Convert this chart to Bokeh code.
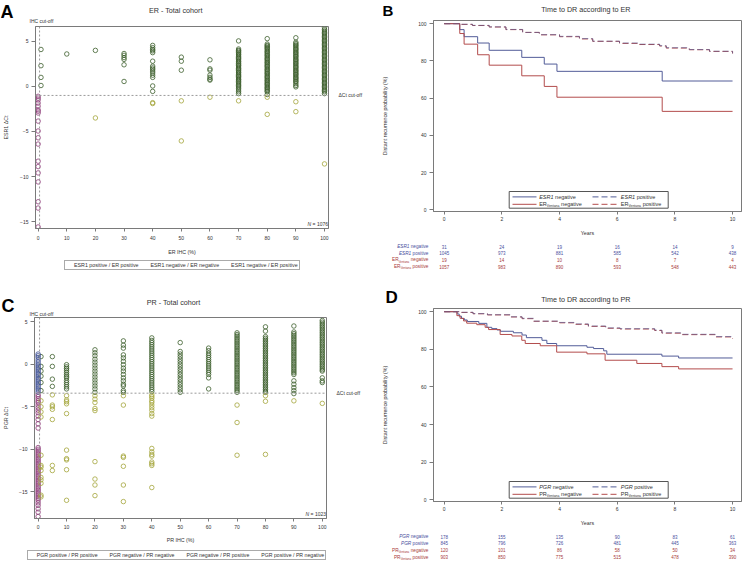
from bokeh.plotting import figure
from bokeh.layouts import column, row
from bokeh.models import (Range1d, Span, Label, BoxAnnotation, Arrow, Legend,
                          LegendItem, FixedTicker, LinearAxis)
from bokeh.core.properties import value
from bokeh.embed import file_html
from bokeh.resources import INLINE

FONT = "Liberation Sans"

# ---------------- Panel A: ESR1 dCt by ER IHC (%) ----------------
A_ESR1POS_ERPOS = {
    1: [4.1, 2.3, 1.0, 0.1],
    10: [3.6],
    20: [4.0],
    30: [3.65, 3.45, 3.2, 3.0, 2.4, 0.55],
    40: [4.55, 4.3, 4.1, 3.95, 3.75, 2.8, 2.25, 2.05, 1.9, 1.7, 1.5, 1.25, 1.0, 0.05, -0.55],
    50: [3.25, 2.8, 1.8],
    60: [2.95, 1.95, 1.8, 1.25, 1.0, 0.8, 0.7],
    70: [5.05, 4.15, 4.0, 3.9, 3.75, 3.6, 3.5, 3.35, 3.2, 3.1, 2.95, 2.8, 2.7, 2.55, 2.4,
         2.3, 2.15, 2.0, 1.9, 1.75, 1.6, 1.5, 1.35, 1.2, 1.1, 0.95, 0.8, 0.7, 0.55, 0.4,
         0.25, 0.1, -0.05, -0.2, -0.4, -0.6, -0.8],
    80: [5.3, 4.7, 4.55, 4.45, 4.3, 4.2, 4.05, 3.9, 3.8, 3.65, 3.5, 3.4, 3.25, 3.1, 3.0,
         2.85, 2.7, 2.6, 2.45, 2.3, 2.2, 2.05, 1.9, 1.8, 1.65, 1.5, 1.4, 1.25, 1.1, 1.0,
         0.85, 0.7, 0.6, 0.45, 0.3, 0.2, 0.05, -0.1, -0.2, -0.35, -0.5, -0.6, -0.9],
    90: [5.4, 4.9, 4.75, 4.6, 4.5, 4.35, 4.2, 4.1, 3.95, 3.8, 3.7, 3.55, 3.4, 3.3, 3.15,
         3.0, 2.9, 2.75, 2.6, 2.5, 2.35, 2.2, 2.1, 1.95, 1.8, 1.7, 1.55, 1.4, 1.3, 1.15,
         1.0, 0.9, 0.75, 0.6, 0.5, 0.3, 0.1, -0.05],
    100: [6.5, 6.3, 6.15, 6.0, 5.85, 5.7, 5.55, 5.4, 5.25, 5.1, 4.95, 4.8, 4.65, 4.5, 4.35,
          4.2, 4.05, 3.9, 3.75, 3.6, 3.45, 3.3, 3.15, 3.0, 2.85, 2.7, 2.55, 2.4, 2.25, 2.1,
          1.95, 1.8, 1.65, 1.5, 1.35, 1.2, 1.05, 0.9, 0.75, 0.6, 0.45, 0.3, 0.15, 0.0,
          -0.15, -0.3, -0.45, -0.6, -0.8],
}
A_ESR1NEG_ERNEG = {
    0: [-1.1, -1.3, -1.5, -1.85, -2.2, -2.6, -2.75, -2.95, -3.85, -4.95, -5.7, -6.4,
        -8.3, -8.9, -9.6, -10.6, -12.8, -13.5, -15.6],
}
A_ESR1NEG_ERPOS = {
    20: [-3.5], 40: [-1.8, -1.9], 50: [-1.6, -6.05], 60: [-1.2], 70: [-1.6],
    80: [-1.2, -3.1], 90: [-1.7, -2.8], 100: [-8.6],
}
A_DCT_CUTOFF = -1.0
A_N = 1076

# ---------------- Panel C: PGR dCt by PR IHC (%) ----------------
C_PGRPOS_PRPOS = {
    1: [0.9, -0.25, -0.8, -1.4, -2.15, -3.1],
    5: [0.9, -0.25, -1.75, -2.6],
    10: [-0.05, -0.3, -0.5, -0.7, -0.95, -1.2, -1.4, -1.6, -1.9, -2.15, -2.4, -2.65, -2.9],
    20: [1.7, 1.35, 1.0, 0.6, 0.25, -0.1, -0.45, -0.8, -1.15, -1.5, -1.85, -2.2, -2.55,
         -2.9, -3.3],
    30: [2.75, 2.25, 1.9, 1.1, 0.75, 0.35, -0.05, -0.45, -0.8, -1.2, -1.6, -1.95, -2.35,
         -2.55, -3.1, -3.3],
    40: [3.1, 2.8, 2.55, 2.3, 2.05, 1.8, 1.55, 1.3, 1.05, 0.8, 0.55, 0.3, 0.05, -0.2,
         -0.45, -0.7, -0.95, -1.2, -1.45, -1.7, -1.95, -2.2, -2.45, -2.7, -2.95, -3.2],
    50: [2.55, 1.5, 1.2, 0.9, 0.6, 0.3, 0.0, -0.3, -0.6, -0.9, -1.2, -1.5, -1.8, -2.1,
         -2.4, -2.7, -3.0, -3.3],
    60: [1.9, 1.6, 1.3, 1.05, 0.8, 0.55, 0.3, 0.05, -0.2, -0.45, -0.7, -0.95, -1.2, -1.6,
         -2.9],
    70: [3.7, 3.5, 3.3, 3.1, 2.9, 2.7, 2.5, 2.3, 2.1, 1.9, 1.7, 1.5, 1.3, 1.1, 0.9, 0.7,
         0.5, 0.3, 0.1, -0.1, -0.3, -0.5, -0.7, -0.9, -1.1, -1.3, -1.5, -1.7, -1.9, -2.1,
         -2.3, -2.5, -2.7, -2.9, -3.1, -3.3],
    80: [4.4, 3.9, 3.25, 3.05, 2.85, 2.65, 2.45, 2.25, 2.05, 1.85, 1.65, 1.45, 1.25, 1.05,
         0.85, 0.65, 0.45, 0.25, 0.05, -0.15, -0.35, -0.55, -0.75, -0.95, -1.15, -1.35,
         -1.55, -1.75, -1.95, -2.15, -2.35, -2.55, -2.75, -2.95, -3.15, -3.3],
    90: [4.5, 3.8, 3.6, 3.4, 3.2, 3.0, 2.8, 2.6, 2.4, 2.2, 2.0, 1.8, 1.6, 1.4, 1.2, 1.0,
         0.8, 0.6, 0.4, 0.2, 0.0, -0.2, -0.4, -0.6, -0.8, -1.0, -1.2, -1.95, -2.35, -2.75,
         -3.1, -3.45],
    100: [5.15, 4.95, 4.75, 4.55, 4.35, 4.15, 3.95, 3.75, 3.55, 3.35, 3.15, 2.95, 2.75,
          2.55, 2.35, 2.15, 1.95, 1.75, 1.55, 1.35, 1.15, 0.95, 0.75, 0.55, 0.35, 0.15,
          -0.05, -0.25, -0.45, -0.65, -0.8, -1.6, -1.95, -2.15],
}
C_PGRNEG_PRNEG = {
    0: [-3.6, -3.8, -4.05, -4.3, -4.5, -4.8, -5.1, -5.4, -5.7, -6.1, -6.5, -7.0, -7.5,
        -9.8, -10.0, -10.2, -10.4, -10.6, -10.8, -11.0, -11.2, -11.4, -11.6, -11.8, -12.0,
        -12.2, -12.4, -12.6, -12.8, -13.0, -13.2, -13.4, -13.6, -13.8, -14.0, -14.2, -14.4,
        -14.6, -14.8, -15.0, -15.2, -15.4, -15.6, -15.8, -16.0, -16.3, -16.6, -17.0, -17.4,
        -17.9],
}
C_PGRNEG_PRPOS = {
    1: [-4.3, -5.0, -5.6, -6.2, -10.7, -11.9, -12.1, -12.5, -13.3, -13.6, -14.0, -15.4, -15.6],
    5: [-3.6, -4.8, -5.0, -5.3, -6.5, -11.9, -12.5],
    10: [-3.7, -4.2, -4.4, -4.65, -5.8, -10.1, -11.1, -11.25, -12.4, -16.0],
    20: [-3.7, -4.1, -4.5, -5.2, -5.45, -11.45, -13.5, -14.2, -15.45],
    30: [-3.7, -4.8, -10.8, -10.95, -12.0, -14.2, -16.15],
    40: [-3.6, -3.8, -4.0, -4.3, -4.5, -4.8, -5.1, -5.4, -5.8, -6.1, -9.9, -10.3, -10.6,
         -10.8, -11.5, -11.7, -11.9, -14.5],
    70: [-4.8, -6.85, -10.7],
    80: [-3.7, -4.35, -10.6],
    90: [-4.3],
    100: [-4.6],
}
C_PGRPOS_PRNEG = {
    0: [1.2, 1.0, 0.8, 0.5, 0.25, 0.0, -0.2, -0.4, -0.6, -0.8, -1.0, -1.2, -1.4, -1.6,
        -1.8, -2.0, -2.2, -2.4, -2.6, -2.8, -3.0, -3.25],
}
C_DCT_CUTOFF = -3.4
C_N = 1023
IHC_CUTOFF_LINE = 0.5

# ---------------- Panel B: time to DR according to ER ----------------
B_ESR1_NEG_T = [0, 0.54, 0.69, 1.16, 1.56, 2.69, 3.47, 3.91, 7.56, 10.0]
B_ESR1_NEG_S = [100, 96.8, 93.0, 89.6, 85.7, 81.9, 78.3, 74.4, 69.2, 69.2]
B_ERV_NEG_T = [0, 0.54, 0.69, 1.16, 1.56, 2.69, 3.47, 3.91, 7.56, 10.0]
B_ERV_NEG_S = [100, 94.7, 89.0, 83.3, 77.7, 72.0, 66.3, 60.5, 52.9, 52.9]
B_ESR1_POS_T = [0, 0.55, 0.98, 1.56, 2.14, 2.72, 3.3, 4.0, 4.69, 5.15, 6.08, 6.77, 7.47, 7.7, 8.5, 9.2, 10.0]
B_ESR1_POS_S = [100, 99.7, 99.1, 98.3, 96.9, 95.3, 94.1, 93.2, 92.0, 90.6, 89.6, 89.0, 88.2, 87.1, 86.1, 85.2, 84.0]
B_ERV_POS_T = [0, 0.55, 0.98, 1.56, 2.14, 2.72, 3.3, 4.0, 4.69, 5.15, 6.08, 6.77, 7.47, 7.7, 8.5, 9.2, 10.0]
B_ERV_POS_S = [100, 99.6, 99.0, 98.2, 96.8, 95.3, 94.0, 93.0, 91.8, 90.5, 89.4, 88.8, 88.0, 86.9, 86.0, 85.1, 84.0]

# ---------------- Panel D: time to DR according to PR ----------------
D_PGR_NEG_T = [0, 0.45, 0.52, 0.6, 0.7, 0.8, 1.2, 1.48, 1.65, 1.83, 1.95, 2.4, 2.7, 2.85,
               3.39, 3.56, 3.9, 4.95, 5.18, 5.53, 5.64, 7.55, 8.13, 10.0]
D_PGR_NEG_S = [100, 98.8, 97.6, 96.4, 95.6, 94.8, 93.8, 91.7, 91.0, 90.3, 89.6, 88.8, 87.6,
               86.2, 84.8, 83.1, 81.9, 81.1, 80.4, 79.2, 77.4, 76.4, 75.4, 75.4]
D_PRV_NEG_T = [0, 0.44, 0.55, 0.67, 0.78, 1.13, 1.42, 1.54, 1.94, 2.35, 2.69, 2.81, 3.33,
               3.9, 4.95, 5.58, 6.68, 7.55, 8.13, 10.0]
D_PRV_NEG_S = [100, 97.9, 96.5, 95.1, 93.9, 93.1, 91.7, 90.5, 87.9, 87.1, 84.8, 83.1, 81.9,
               78.5, 77.6, 74.2, 72.5, 70.8, 69.6, 69.6]
D_PGR_POS_T = [0, 0.55, 1.0, 1.5, 2.3, 2.7, 3.1, 4.0, 4.5, 5.0, 5.6, 6.1, 7.3, 7.55, 8.2, 9.4, 10.0]
D_PGR_POS_S = [100, 99.7, 99.0, 98.4, 97.3, 96.5, 95.0, 94.3, 93.5, 92.4, 91.4, 91.0, 90.2, 88.8, 88.0, 86.8, 85.8]
D_PRV_POS_T = [0, 0.55, 1.0, 1.5, 2.3, 2.7, 3.1, 4.0, 4.5, 5.0, 5.6, 6.1, 7.3, 7.55, 8.2, 9.4, 10.0]
D_PRV_POS_S = [100, 99.6, 98.9, 98.3, 97.2, 96.3, 94.9, 94.1, 93.3, 92.2, 91.2, 90.8, 90.0, 88.6, 87.8, 86.6, 85.6]

# ---------------- numbers at risk ----------------
RISK_YEARS = [0, 2, 4, 6, 8, 10]
B_RISK = [
    ("ESR1", "negative", [31, 24, 19, 16, 14, 9], "blue"),
    ("ESR1", "positive", [1045, 973, 881, 585, 542, 438], "blue"),
    ("ER", "negative", [19, 14, 10, 8, 7, 4], "red"),
    ("ER", "positive", [1057, 983, 890, 593, 548, 443], "red"),
]
D_RISK = [
    ("PGR", "negative", [178, 155, 135, 90, 83, 61], "blue"),
    ("PGR", "positive", [845, 796, 726, 481, 445, 363], "blue"),
    ("PR", "negative", [120, 101, 86, 58, 50, 34], "red"),
    ("PR", "positive", [903, 850, 775, 515, 478, 390], "red"),
]

GREEN = "#3c5e2c"
PURPLE = "#8e3a78"
OLIVE = "#a3a43a"
BLUE_SC = "#3d4f95"
KM_BLUE = "#525c98"
KM_RED = "#b34c4c"
TXT_BLUE = "#4a4f9e"
TXT_RED = "#a83a3a"
AX = "#7a7a7a"
TXT = "#333333"

# layout constants (pixels)
KM_W, KM_LEFT, KM_FW = 370, 61, 308
KM_X = (-0.371, 10.31)
KM_Y = (-0.88, 101.7)

ARIAL = {' ': 278, '(': 333, ')': 333, '%': 889, '-': 333, '/': 278, '=': 584, '.': 278,
         'A': 667, 'B': 667, 'C': 722, 'D': 722, 'E': 667, 'G': 778, 'H': 722, 'I': 278,
         'N': 722, 'P': 667, 'R': 722, 'S': 667, 'T': 611, 'V': 667,
         'a': 556, 'b': 556, 'c': 500, 'd': 556, 'e': 556, 'f': 278, 'g': 556, 'h': 556,
         'i': 222, 'l': 222, 'm': 833, 'n': 556, 'o': 556, 'p': 556, 'r': 333, 's': 500,
         't': 278, 'u': 556, 'v': 500, 'y': 500}


def tw(s, size):
    return sum(ARIAL.get(ch, 556) for ch in s) * size / 1000.0


def mkfig(**kw):
    kw.setdefault("output_backend", "svg")
    kw.setdefault("toolbar_location", None)
    try:
        return figure(frame_align=False, **kw)
    except Exception:
        return figure(**kw)


def label(p, text, x, y, size, color=TXT, style="normal", align="left", baseline="middle",
          x_units="screen", y_units="screen"):
    p.add_layout(Label(x=x, y=y, x_units=x_units, y_units=y_units, text=text,
                       text_font=FONT, text_font_size=f"{size}px", text_font_style=style,
                       text_color=color, text_align=align, text_baseline=baseline))


def seg_layout(segs):
    out, cx = [], 0.0
    for seg in segs:
        t, s, st, dy, sp = seg
        if sp:
            cx += tw(" ", sp)
        out.append((cx, seg))
        cx += tw(t, s)
    return out, cx


def rich(p, segs, x, y, color, align="left"):
    placed, total = seg_layout(segs)
    x0 = x - total if align == "right" else x
    for cx, (t, s, st, dy, sp) in placed:
        label(p, t, x0 + cx, y + dy, s, color=color, style=st)


def name_segs(gene, word, size, is_gene_italic):
    if is_gene_italic:
        return [(gene, size, "italic", 0, 0), (word, size, "normal", 0, size)]
    return [(gene, size, "normal", 0, 0), ("Ventana", size * 0.62, "normal", -1.3, 0),
            (word, size, "normal", 0, size)]


def flatten(d):
    xs, ys = [], []
    for k, vals in d.items():
        xs += [k] * len(vals)
        ys += list(vals)
    return xs, ys


def bare(p):
    p.grid.visible = False
    p.outline_line_color = None
    return p


def strip_fig(w, h, xr, yr):
    return bare(mkfig(width=w, height=h, x_range=xr, y_range=yr, min_border=0,
                      min_border_left=0, min_border_right=0, min_border_top=0,
                      min_border_bottom=0, x_axis_location=None, y_axis_location=None))


def text_strip(w, h, items):
    """A strip whose frame is the whole strip; y counted downward in pixels."""
    p = strip_fig(w, h, Range1d(0, w), Range1d(h, 0))
    for text, x, y, size, style, align, color in items:
        p.text(x=[x], y=[y], text=[text], text_align=align, text_baseline="middle",
               text_font=value(FONT), text_font_size=f"{size}px", text_font_style=style,
               text_color=color)
    return p


def legend_strip(w, h, names, colors, font, loc):
    p = strip_fig(w, h, Range1d(0, 1), Range1d(0, 1))
    items = []
    for nm, c in zip(names, colors):
        r = p.scatter(x=[], y=[], marker="circle", size=4.5, fill_color=None,
                      line_color=c, line_width=0.8)
        items.append(LegendItem(label=nm, renderers=[r]))
    p.add_layout(Legend(items=items, orientation="horizontal", location=loc,
                        label_text_font=FONT, label_text_font_size=font,
                        label_text_color=TXT, label_height=6, glyph_height=6,
                        glyph_width=6, label_standoff=2, spacing=4, padding=1, margin=0,
                        border_line_color="#555555", border_line_width=1,
                        background_fill_alpha=0))
    return p


def style_axes(p, xticks, yticks, xlabel, ylabel, ylab_standoff, xlab_standoffs):
    p.xaxis.ticker = FixedTicker(ticks=xticks)
    p.yaxis.ticker = FixedTicker(ticks=yticks)
    p.xaxis.axis_label = xlabel
    p.yaxis.axis_label = ylabel
    for ax in (p.xaxis, p.yaxis):
        ax.axis_line_color = AX
        ax.major_tick_line_color = AX
        ax.minor_tick_line_color = None
        ax.major_tick_in = 0
        ax.major_label_text_font = FONT
        ax.major_label_text_font_size = "5px"
        ax.major_label_text_color = TXT
        ax.axis_label_text_font = FONT
        ax.axis_label_text_font_size = "5.3px"
        ax.axis_label_text_font_style = "normal"
        ax.axis_label_text_color = TXT
    p.xaxis.major_tick_out = 3
    p.xaxis.major_label_standoff = xlab_standoffs[0]
    p.xaxis.axis_label_standoff = xlab_standoffs[1]
    p.yaxis.major_tick_out = 4
    p.yaxis.major_label_standoff = 3
    p.yaxis.axis_label_standoff = ylab_standoff
    p.xgrid.grid_line_color = None
    p.ygrid.grid_line_color = None
    p.outline_line_color = AX
    p.outline_line_alpha = 1


def scatter_panel(xr, yr, dims, groups, cutoff, n, ylabel, xlabel, ystand, xstands):
    w, h, bl, br, bt, bb = dims
    fw = w - bl - br
    p = mkfig(width=w, height=h, min_border_left=bl, min_border_right=br,
              min_border_top=bt, min_border_bottom=bb, x_range=Range1d(*xr),
              y_range=Range1d(*yr), title=None)
    style_axes(p, list(range(0, 101, 10)), [-15, -10, -5, 0, 5], xlabel, ylabel, ystand,
               xstands)
    p.add_layout(Span(location=IHC_CUTOFF_LINE, dimension="height", line_color="#9a9a9a",
                      line_dash="2 2", line_width=1))
    p.add_layout(Span(location=cutoff, dimension="width", line_color="#9a9a9a",
                      line_dash="2 2", line_width=1))
    cut_ax = LinearAxis(ticker=FixedTicker(ticks=[cutoff]),
                        major_label_overrides={cutoff: "ΔCt cut-off"},
                        axis_line_color=None, major_tick_line_color=None,
                        minor_tick_line_color=None, major_label_standoff=4,
                        major_label_text_font=FONT, major_label_text_font_size="5px",
                        major_label_text_color=TXT)
    p.add_layout(cut_ax, "right")
    for d, color in groups:
        xs, ys = flatten(d)
        p.scatter(xs, ys, marker="circle", size=4.5, fill_color=None,
                  line_color=color, line_width=0.8)
    rich(p, [("N", 5, "italic", 0, 0), ("=", 5, "normal", 0, 5), (str(n), 5, "normal", 0, 5)],
         fw - 6.5, 4.5, TXT, align="right")
    return p


def km_panel(h, bb, curves, legend_rows):
    p = mkfig(width=KM_W, height=h, min_border_left=KM_LEFT,
              min_border_right=KM_W - KM_LEFT - KM_FW,
              min_border_top=0, min_border_bottom=bb, x_range=Range1d(*KM_X),
              y_range=Range1d(*KM_Y), title=None)
    style_axes(p, [0, 2, 4, 6, 8, 10], [0, 20, 40, 60, 80, 100], "Years",
               "Distant recurrence probability (%)", 27, (2, 6))
    for t, s, color, dash, alpha in curves:
        p.step(t, s, mode="after", line_color=color, line_width=1.0, line_dash=dash,
               line_alpha=alpha)
    p.add_layout(BoxAnnotation(left=75.7, right=234.7, bottom=3.3, top=20.0,
                               left_units="screen", right_units="screen",
                               top_units="screen", bottom_units="screen",
                               fill_color=None, fill_alpha=0, line_color="#555555",
                               line_alpha=1, line_width=1))
    for (gene, word, italic, color, dash), (lx0, lx1, tx, ly) in legend_rows:
        p.add_layout(Arrow(end=None, x_start=lx0, y_start=ly, x_end=lx1, y_end=ly,
                           start_units="screen", end_units="screen", line_color=color,
                           line_width=1, line_dash=dash))
        rich(p, name_segs(gene, word, 5.5, italic), tx, ly, TXT)
    return p


def risk_panel(risk, h, top_px, row_px):
    ppu = KM_FW / (KM_X[1] - KM_X[0])
    x0 = KM_X[0] - KM_LEFT / ppu
    x1 = KM_X[1] + (KM_W - KM_LEFT - KM_FW) / ppu
    p = strip_fig(KM_W, h, Range1d(x0, x1),
                  Range1d((h - top_px) / row_px, -top_px / row_px))
    for i, (gene, word, counts, col) in enumerate(risk):
        color = TXT_BLUE if col == "blue" else TXT_RED
        p.text(x=RISK_YEARS, y=[i] * len(RISK_YEARS), text=[str(c) for c in counts],
               text_align="center", text_baseline="middle", text_font=value(FONT),
               text_font_size="4.5px", text_color=color)
        placed, total = seg_layout(name_segs(gene, word, 4.7, col == "blue"))
        for cx, (t, s, st, dy, sp) in placed:
            p.text(x=[KM_X[0]], y=[i], text=[t], x_offset=-5 - total + cx, y_offset=-dy,
                   text_align="left", text_baseline="middle", text_font=value(FONT),
                   text_font_size=f"{s:.2f}px", text_font_style=st, text_color=color)
    return p


# ---------------- panel A ----------------
headA = text_strip(372, 26, [
    ("A", 0, 11.5, 18, "bold", "left", "#000000"),
    ("ER - Total cohort", 175.3, 10.0, 7.2, "normal", "center", TXT),
    ("IHC cut-off", 29, 20.8, 5, "normal", "left", TXT),
])
pA = scatter_panel((-0.92, 101.4), (-15.77, 6.65), (372, 231, 29, 44, 0, 27),
                   [(A_ESR1POS_ERPOS, GREEN), (A_ESR1NEG_ERNEG, PURPLE),
                    (A_ESR1NEG_ERPOS, OLIVE)],
                   A_DCT_CUTOFF, A_N, "ESR1 ΔCt", "ER IHC (%)", 8, (4, 6))
legA = legend_strip(372, 25, ["ESR1 positive / ER positive", "ESR1 negative / ER negative",
                              "ESR1 negative / ER positive"],
                    [GREEN, PURPLE, OLIVE], "5.3px", (64, 12))

# ---------------- panel C ----------------
headC = text_strip(372, 35, [
    ("C", 1, 23.5, 18, "bold", "left", "#000000"),
    ("PR - Total cohort", 173, 19.7, 7.2, "normal", "center", TXT),
    ("IHC cut-off", 29, 31.5, 5, "normal", "left", TXT),
])
pC = scatter_panel((-1.28, 101.48), (-18.14, 5.5), (372, 228, 28, 46, 0, 23),
                   [(C_PGRPOS_PRPOS, GREEN), (C_PGRNEG_PRNEG, PURPLE),
                    (C_PGRNEG_PRPOS, OLIVE), (C_PGRPOS_PRNEG, BLUE_SC)],
                   C_DCT_CUTOFF, C_N, "PGR ΔCt", "PR IHC (%)", 7, (3, 5))
legC = legend_strip(372, 15, ["PGR positive / PR positive", "PGR negative / PR negative",
                              "PGR negative / PR positive", "PGR positive / PR negative"],
                    [GREEN, PURPLE, OLIVE, BLUE_SC], "5.2px", (26.7, 0.5))

LEG_GEOM = [(79, 103, 105.7, 14.6), (79, 103, 105.7, 7.2),
            (159, 184, 187.3, 14.6), (159, 184, 187.3, 7.2)]

# ---------------- panel B ----------------
headB = text_strip(KM_W, 20, [
    ("B", 10, 10.0, 15, "bold", "left", "#000000"),
    ("Time to DR according to ER", 213.3, 9.3, 7.2, "normal", "center", TXT),
])
pB = km_panel(218, 23,
              [(B_ESR1_NEG_T, B_ESR1_NEG_S, KM_BLUE, "solid", 1.0),
               (B_ERV_NEG_T, B_ERV_NEG_S, KM_RED, "solid", 1.0),
               (B_ERV_POS_T, B_ERV_POS_S, KM_RED, "6 3", 1.0),
               (B_ESR1_POS_T, B_ESR1_POS_S, KM_BLUE, "6 3", 0.6)],
              list(zip([("ESR1", "negative", True, KM_BLUE, "solid"),
                        ("ER", "negative", False, KM_RED, "solid"),
                        ("ESR1", "positive", True, KM_BLUE, "6 3"),
                        ("ER", "positive", False, KM_RED, "6 3")], LEG_GEOM)))
riskB = risk_panel(B_RISK, 44, 8.0, 6.67)

# ---------------- panel D ----------------
headD = text_strip(KM_W, 26, [
    ("D", 13, 14.5, 17, "bold", "left", "#000000"),
    ("Time to DR according to PR", 213.3, 17.3, 7.2, "normal", "center", TXT),
])
pD = km_panel(220, 23,
              [(D_PGR_NEG_T, D_PGR_NEG_S, KM_BLUE, "solid", 1.0),
               (D_PRV_NEG_T, D_PRV_NEG_S, KM_RED, "solid", 1.0),
               (D_PRV_POS_T, D_PRV_POS_S, KM_RED, "6 3", 1.0),
               (D_PGR_POS_T, D_PGR_POS_S, KM_BLUE, "6 3", 0.6)],
              list(zip([("PGR", "negative", True, KM_BLUE, "solid"),
                        ("PR", "negative", False, KM_RED, "solid"),
                        ("PGR", "positive", True, KM_BLUE, "6 3"),
                        ("PR", "positive", False, KM_RED, "6 3")], LEG_GEOM)))
riskD = risk_panel(D_RISK, 32, 8.0, 6.9)

layout = column(row(column(headA, pA, legA), column(headB, pB, riskB)),
                row(column(headC, pC, legC), column(headD, pD, riskD)))
open("out.html", "w").write(file_html(layout, INLINE))
